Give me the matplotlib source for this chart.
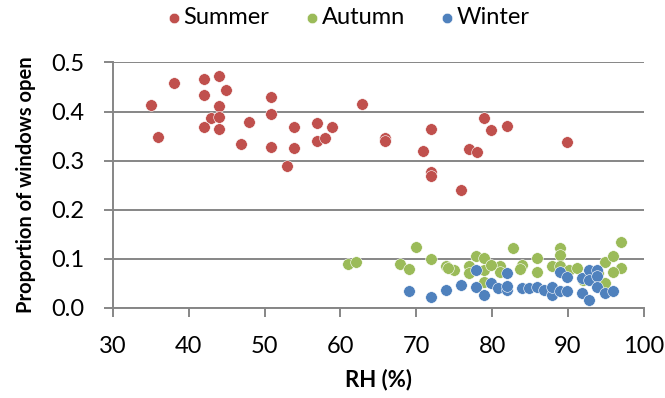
import numpy as np
import matplotlib.pyplot as plt

plt.rcParams['font.family'] = ['Lato', 'DejaVu Sans']

# relative humidity (%) and proportion of windows open, per season
summer_rh = [35.0, 35.9, 38.0, 42.0, 44.0, 42.0, 44.9, 44.0, 42.9, 44.0,
             42.0, 44.0, 47.9, 46.9, 50.9, 50.9, 50.9, 53.9, 53.9, 53.0,
             56.9, 56.9, 58.9, 58.0, 62.9, 65.9, 65.9, 71.9, 70.9, 71.9,
             71.9, 75.9, 76.9, 78.0, 78.9, 79.9, 81.9, 89.9]
summer_open = [0.414, 0.349, 0.458, 0.466, 0.473, 0.433, 0.443, 0.412, 0.387, 0.388,
               0.368, 0.365, 0.379, 0.333, 0.429, 0.395, 0.327, 0.368, 0.325, 0.289,
               0.377, 0.339, 0.369, 0.346, 0.416, 0.345, 0.340, 0.365, 0.319, 0.276,
               0.269, 0.240, 0.323, 0.318, 0.386, 0.363, 0.370, 0.337]

autumn_rh = [61.0, 62.0, 67.9, 69.0, 70.0, 72.0, 73.9, 75.0, 74.2, 77.9,
             78.9, 76.9, 76.9, 78.9, 78.9, 81.0, 81.0, 82.8, 83.9, 83.7,
             85.9, 85.9, 87.9, 88.9, 88.9, 88.9, 90.1, 91.2, 92.0, 93.0,
             94.0, 94.9, 96.0, 97.0, 97.0, 96.0, 94.9, 79.9]
autumn_open = [0.089, 0.094, 0.089, 0.078, 0.123, 0.099, 0.084, 0.077, 0.080, 0.105,
               0.102, 0.084, 0.070, 0.077, 0.053, 0.084, 0.073, 0.121, 0.087, 0.078,
               0.101, 0.073, 0.084, 0.121, 0.108, 0.084, 0.077, 0.080, 0.057, 0.072,
               0.070, 0.094, 0.105, 0.133, 0.080, 0.073, 0.050, 0.088]

winter_rh = [69.0, 71.9, 73.9, 75.9, 77.9, 77.9, 78.9, 79.9, 80.8, 81.9,
             81.9, 81.9, 83.9, 84.9, 85.9, 86.9, 87.9, 87.9, 88.9, 88.9,
             89.9, 89.9, 91.8, 91.8, 92.8, 92.8, 92.8, 93.9, 93.9, 93.9,
             94.9, 95.9]
winter_open = [0.033, 0.022, 0.035, 0.046, 0.077, 0.043, 0.026, 0.050, 0.040, 0.070,
               0.036, 0.045, 0.040, 0.040, 0.043, 0.036, 0.026, 0.043, 0.033, 0.073,
               0.063, 0.033, 0.060, 0.029, 0.077, 0.016, 0.057, 0.077, 0.065, 0.043,
               0.029, 0.033]

colors = {"Summer": "#C0504D", "Autumn": "#9BBB59", "Winter": "#4F81BD"}
grey = "#868686"

fig = plt.figure(figsize=(6.65, 3.98), dpi=100)
ax = fig.add_axes([0.170, 0.227, 0.798, 0.616])

for name, xs, ys in [("Summer", summer_rh, summer_open),
                     ("Autumn", autumn_rh, autumn_open),
                     ("Winter", winter_rh, winter_open)]:
    ax.scatter(xs, ys, s=70, color=colors[name], edgecolors="white",
               linewidths=0.4, label=name, zorder=3)

ax.set_xlim(30, 100)
ax.set_ylim(0, 0.5)
ax.set_xticks(np.arange(30, 101, 10))
ax.set_yticks(np.arange(0, 0.51, 0.1))
ax.yaxis.set_major_formatter(plt.FormatStrFormatter("%.1f"))

ax.grid(axis="y", color=grey, linewidth=1.4, zorder=0)
for side in ("top", "right"):
    ax.spines[side].set_visible(False)
for side in ("left", "bottom"):
    ax.spines[side].set_color(grey)
    ax.spines[side].set_linewidth(1.4)
ax.tick_params(direction="out", length=6.5, width=1.4, color=grey,
               labelsize=17, labelcolor="black")
ax.tick_params(axis="y", pad=14)
ax.tick_params(axis="x", pad=14)

ax.set_xlabel("RH (%)", fontsize=16, fontweight="bold", labelpad=8)
ax.set_ylabel("Proportion of windows open", fontsize=14.5, fontweight="bold",
              labelpad=11)

fig.legend(loc="center", bbox_to_anchor=(346 / 665, 1 - 18 / 398), ncol=3,
           frameon=False, fontsize=17, markerscale=0.9, handlelength=1.0,
           handletextpad=-0.1, columnspacing=1.3, borderaxespad=0)

fig.savefig("out.png", dpi=100)
